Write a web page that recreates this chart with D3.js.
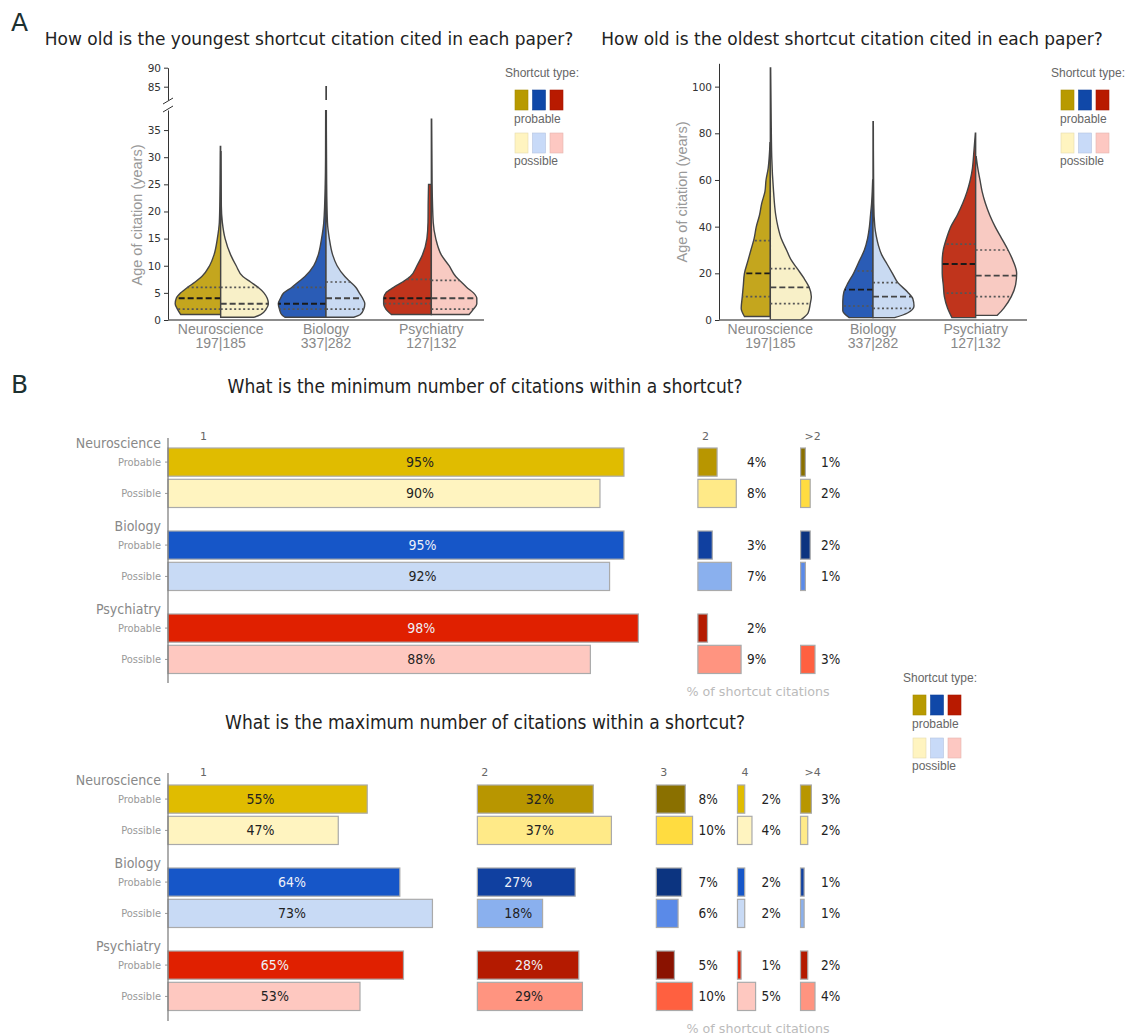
<!DOCTYPE html>
<html>
<head>
<meta charset="utf-8">
<script src="https://cdn.jsdelivr.net/npm/d3@7"></script>
<style>
  body { margin: 0; background: #fff; }
  svg { display: block; font-family: "DejaVu Sans", sans-serif; }
</style>
</head>
<body>
<div id="chart"></div>
<script>
'use strict';

// Data
var categories = ["Neuroscience", "Biology", "Psychiatry"];
var counts = ["197|185", "337|282", "127|132"];
var types = ["Probable", "Possible"];

// Violin outlines: [age in years, relative density] per field
var youngestProbable = [
  [[1,36],[2,39],[3,41],[4,40],[5,36],[6,30],[7,23],[8,17],[10,10],[12,6],[15,3],[18,1.2],[22,0.7],[26,0.5],[32,0.3]],
  [[0.5,37],[1,40],[2,42],[3,43],[4,41],[5,38],[6,31],[7,25],[8,19],[10,11],[12,7],[15,4],[18,2],[25,0.7],[30,0.4],[39,0.3]],
  [[1,36],[2,41],[3,43],[4,43],[5,41],[6,34],[7,26],[8,19],[10,13],[12,8],[15,4],[18,3],[22,2.8],[25,2.5]]
];
var youngestPossible = [
  [[0.5,30],[1,36],[2,41],[3,43],[4,42],[5,39],[6,34],[7,27],[8,20],[10,14],[12,9],[15,4],[18,1.5],[21,0.6],[31,0.3]],
  [[0.5,25],[1,31],[2,34],[3,35],[4,33],[5,30],[6,27],[7,22],[8,17],[10,10],[12,6],[15,3],[18,1.3],[25,0.6],[40,0.3],[85,0.3]],
  [[1,34],[2,38],[3,41],[4,41],[5,38],[6,32],[7,27],[8,22],[10,16],[12,9],[15,4],[18,1.7],[25,0.7],[37,0.3]]
];
var oldestProbable = [
  [[1.5,24],[5,27],[10,26],[15,25],[20,24],[25,21],[30,18],[35,15],[40,13],[45,10],[50,8],[55,5],[60,4],[65,2],[70,1],[76,0.3]],
  [[1,22],[4,28],[8,28],[12,27],[16,23],[20,18],[25,13],[30,8],[35,5],[40,3.3],[45,2.3],[50,1.3],[55,0.7],[60,0.3]],
  [[1,22],[5,26],[10,29],[15,30],[20,31],[25,31],[30,30],[35,27],[40,23],[45,17],[50,12],[55,8],[60,5],[65,3],[70,2],[80,0.3]]
];
var oldestPossible = [
  [[0,28],[3,35],[7,37],[10,38],[14,36],[18,31],[22,25],[26,19],[30,15],[35,10],[40,7],[45,5],[55,3],[70,1.3],[90,0.7],[108,0.3]],
  [[1,20],[3,32],[6,38],[9,37],[12,32],[16,23],[20,18],[24,13],[28,8],[32,5],[36,3],[40,1.7],[50,0.7],[85,0.3]],
  [[2,20],[5,26],[10,33],[15,37],[20,38],[25,35],[30,30],[35,24],[40,18],[45,13],[50,9],[55,6],[60,4],[65,2],[70,0.5]]
];
// quartiles [q1, median, q3]
var youngestProbableQuart = [[2,4,6],[2,3,6],[3,4,7.5]];
var youngestPossibleQuart = [[2,3,6],[2,4,7],[2,4,7.3]];
var oldestProbableQuart = [[10,20,34],[6,13,21],[11.5,24,32.5]];
var oldestPossibleQuart = [[7,14,22],[5,10,16],[10,19,30]];

var youngTicksLow = [0,5,10,15,20,25,30,35];
var youngTicksHigh = [85,90];
var oldTicks = [0,20,40,60,80,100];

// Shortcut citation counts (% of shortcut citations)
var minColumns = ["1", "2", ">2"];
var minProbable = [[95,4,1],[95,3,2],[98,2,null]];
var minPossible = [[90,8,2],[92,7,1],[88,9,3]];
var maxColumns = ["1", "2", "3", "4", ">4"];
var maxProbable = [[55,32,8,2,3],[64,27,7,2,1],[65,28,5,1,2]];
var maxPossible = [[47,37,10,4,2],[73,18,6,2,1],[53,29,10,5,4]];

// Colours
var violinColors = {Probable: ["#c4a61e","#2a5cb6","#c0341c"], Possible: ["#f8f0c8","#c9daf2","#f8cac2"]};
var legendColors = {Probable: ["#b89a00","#1048a8","#b81a00"], Possible: ["#fff4c0","#c8daf8","#fdc8c2"]};
var palA = {Probable: ["#e0bc00","#1656c8","#e02000"], Possible: ["#fff4c0","#c8daf5","#fec8c0"]};
var palB = {Probable: ["#b89600","#1040a0","#b41a00"], Possible: ["#ffea88","#8ab0ee","#ff9480"]};
var palC = {Probable: ["#8a7000","#0c3480","#8a1200"], Possible: ["#ffdc40","#5a8ae8","#ff6040"]};

var svg = d3.select("#chart").append("svg")
  .attr("width", 1135)
  .attr("height", 1036);

// panel letters
svg.append("text").attr("x", 11).attr("y", 31).text("A")
  .style("font-size", "25px").attr("fill", "#1c3030");
svg.append("text").attr("x", 11).attr("y", 393).text("B")
  .style("font-size", "25px").attr("fill", "#1c3030");

function widthAt(profile, age) {
  for (var i = 1; i < profile.length; i++) {
    if (age <= profile[i][0]) {
      var a = profile[i-1], b = profile[i];
      var t = (age - a[0]) / (b[0] - a[0]);
      return a[1] + t * (b[1] - a[1]);
    }
  }
  return 0;
}

function styleAxis(g) {
  g.select(".domain").attr("stroke", "#333");
  g.selectAll(".tick line").attr("stroke", "#333");
  g.selectAll(".tick text").attr("fill", "#333")
    .style("font-size", "10.5px").style("font-family", "DejaVu Sans");
}

function legend(x, y) {
  var g = svg.append("g").style("font-family", "Liberation Sans, Arial, sans-serif");
  g.append("text").attr("x", x).attr("y", y).text("Shortcut type:")
    .style("font-size", "12px").attr("fill", "#666");
  types.forEach(function(t, ti) {
    g.selectAll(null).data(legendColors[t]).enter().append("rect")
      .attr("x", function(d, i){ return x + 10 + i * 17.5 })
      .attr("y", y + 13 + ti * 43)
      .attr("width", 13).attr("height", 20)
      .attr("fill", function(d){ return d })
      .attr("stroke", function(d){ return d3.color(d).darker(0.3) })
      .attr("stroke-width", 0.6);
    g.append("text").attr("x", x + 9).attr("y", y + 46 + ti * 42)
      .text(t.toLowerCase()).style("font-size", "12px").attr("fill", "#666");
  });
}

function violinPanel(cfg) {
  var g = svg.append("g");
  var x = d3.scaleBand().domain(categories).range([cfg.left, cfg.right]);
  var w = d3.scaleLinear().domain([0, cfg.maxDensity]).range([0, cfg.maxHalf]);

  g.append("text").attr("x", cfg.titleX).attr("y", 45).attr("text-anchor", "middle")
    .text(cfg.title).style("font-size", "17px").attr("fill", "#222");

  cfg.segments.forEach(function(seg, si) {
    var clipId = cfg.id + "clip" + si;
    svg.append("clipPath").attr("id", clipId).append("rect")
      .attr("x", cfg.left).attr("y", seg.y.range()[1])
      .attr("width", cfg.right - cfg.left)
      .attr("height", seg.y.range()[0] - seg.y.range()[1]);
    var sg = g.append("g").attr("clip-path", "url(#" + clipId + ")");

    categories.forEach(function(cat, ci) {
      var cx = x(cat) + x.bandwidth() / 2;
      [["Probable", -1], ["Possible", 1]].forEach(function(t) {
        var prof = (t[0] == "Probable" ? cfg.probable : cfg.possible)[ci];
        var area = d3.area().curve(d3.curveMonotoneY)
          .y(function(d){ return seg.y(d[0]) })
          .x0(cx)
          .x1(function(d){ return cx + t[1] * w(d[1]) });
        sg.append("path").datum(prof.slice().reverse())
          .attr("d", area)
          .attr("fill", violinColors[t[0]][ci])
          .attr("stroke", "#444")
          .attr("stroke-width", 1.4);
        var q = (t[0] == "Probable" ? cfg.probQ : cfg.possQ)[ci];
        q.forEach(function(v, qi) {
          sg.append("line")
            .attr("x1", cx).attr("x2", cx + t[1] * w(widthAt(prof, v)))
            .attr("y1", seg.y(v)).attr("y2", seg.y(v))
            .attr("stroke", qi == 1 ? (t[0] == "Probable" ? "#1a1a1a" : "#444") : "#555")
            .attr("stroke-width", qi == 1 ? 1.9 : 1.7)
            .attr("stroke-dasharray", qi == 1 ? "6,3" : "2,2.5");
        });
      });
    });

    var ax = g.append("g").attr("transform", "translate(" + cfg.left + ",0)")
      .call(d3.axisLeft(seg.y).tickValues(seg.ticks).tickSize(4).tickSizeOuter(0));
    styleAxis(ax);
  });

  // x axis
  g.append("line").attr("x1", cfg.left).attr("x2", cfg.right)
    .attr("y1", 320).attr("y2", 320).attr("stroke", "#666").attr("stroke-width", 1.4);
  categories.forEach(function(cat, ci) {
    var cx = x(cat) + x.bandwidth() / 2;
    var t = g.append("text").attr("text-anchor", "middle")
      .style("font-family", "Liberation Sans, Arial, sans-serif")
      .style("font-size", "14px").attr("fill", "#888");
    t.append("tspan").attr("x", cx).attr("y", 334).text(cat);
    t.append("tspan").attr("x", cx).attr("y", 348).text(counts[ci]);
  });

  g.append("text")
    .attr("transform", "translate(" + cfg.labelX + "," + cfg.labelY + ") rotate(-90)")
    .attr("text-anchor", "middle").attr("dy", "0.35em")
    .style("font-family", "Liberation Sans, Arial, sans-serif")
    .style("font-size", "14.5px").attr("fill", "#999")
    .text("Age of citation (years)");

  legend(cfg.legendX, 77);
  return g;
}

// Panel A, left: youngest
var yLow = d3.scaleLinear().domain([0, 38.7]).range([320, 110]);
var yHigh = d3.scaleLinear().domain([81.5, 90]).range([100, 67.7]);
var gA1 = violinPanel({
  id: "young", left: 168, right: 484, maxDensity: 43, maxHalf: 47.7,
  title: "How old is the youngest shortcut citation cited in each paper?", titleX: 309,
  probable: youngestProbable, possible: youngestPossible,
  probQ: youngestProbableQuart, possQ: youngestPossibleQuart,
  segments: [{y: yLow, ticks: youngTicksLow}, {y: yHigh, ticks: youngTicksHigh}],
  labelX: 137, labelY: 215, legendX: 505
});
// axis break marks
[101, 109].forEach(function(by) {
  gA1.append("line").attr("x1", 163).attr("x2", 173).attr("y1", by + 3).attr("y2", by - 3)
    .attr("stroke", "#333").attr("stroke-width", 1);
});

// Panel A, right: oldest
var yOld = d3.scaleLinear().domain([0, 110]).range([320, 63.3]);
violinPanel({
  id: "old", left: 719, right: 1027, maxDensity: 38, maxHalf: 41,
  title: "How old is the oldest shortcut citation cited in each paper?", titleX: 852,
  probable: oldestProbable, possible: oldestPossible,
  probQ: oldestProbableQuart, possQ: oldestPossibleQuart,
  segments: [{y: yOld, ticks: oldTicks}],
  labelX: 682, labelY: 192, legendX: 1051
});

// Panel B bar charts
function barPanel(cfg) {
  var g = svg.append("g");
  var all = cfg.probable.concat(cfg.possible);
  var maxes = cfg.columns.map(function(c, i){ return d3.max(all, function(r){ return r[i] }) });
  var gap = 12.4;
  var starts = [], acc = 0;
  maxes.forEach(function(m){ starts.push(acc); acc += m + gap; });
  var x = d3.scaleLinear().domain([0, acc - gap]).range([168, 815]);
  var gy = d3.scalePoint().domain(categories).range(cfg.groupRange);
  var sub = d3.scaleBand().domain(types).range([0, 59.5]).paddingInner(0.1);

  g.append("text").attr("x", 485).attr("y", cfg.titleY).attr("text-anchor", "middle")
    .style("font-family", "DejaVu Sans Condensed, DejaVu Sans")
    .style("font-size", "19px").attr("fill", "#222").text(cfg.title);

  // column headers
  cfg.columns.forEach(function(c, i) {
    g.append("text").attr("x", x(starts[i]) + (i == 0 ? 32 : 4)).attr("y", cfg.headerY)
      .style("font-size", "11px").attr("fill", "#666").text(c);
  });

  categories.forEach(function(cat, ci) {
    var top = gy(cat);
    g.append("text").attr("x", 161).attr("y", top).attr("text-anchor", "end")
      .style("font-family", "DejaVu Sans Condensed, DejaVu Sans")
      .style("font-size", "14px").attr("fill", "#888").text(cat);

    types.forEach(function(t) {
      var vals = (t == "Probable" ? cfg.probable : cfg.possible)[ci];
      var by = top + sub(t);
      g.append("text").attr("x", 161).attr("y", by + sub.bandwidth() / 2).attr("dy", "0.35em")
        .attr("text-anchor", "end")
        .style("font-family", "DejaVu Sans Condensed, DejaVu Sans")
        .style("font-size", "11px").attr("fill", "#999").text(t);
      g.append("line").attr("x1", 165).attr("x2", 168)
        .attr("y1", by + sub.bandwidth() / 2).attr("y2", by + sub.bandwidth() / 2)
        .attr("stroke", "#999");

      vals.forEach(function(v, i) {
        if (v == null) return;
        var pal = cfg.palettes[i][t];
        g.append("rect")
          .attr("x", x(starts[i])).attr("y", by)
          .attr("width", x(starts[i] + v) - x(starts[i]))
          .attr("height", sub.bandwidth())
          .attr("fill", pal[ci]).attr("stroke", "#aaa").attr("stroke-width", 1.2);
        var inside = maxes[i] >= 15;
        var lx, anchor;
        if (inside) {
          var mean = (cfg.probable[ci][i] + cfg.possible[ci][i]) / 2;
          lx = x(starts[i] + mean / 2 + (i == 0 ? cfg.labelShift : 0));
          anchor = "middle";
        } else {
          lx = x(starts[i] + maxes[i]) + 6;
          anchor = "start";
        }
        var light = inside && t == "Probable" && ci > 0;
        g.append("text").attr("x", lx).attr("y", by + sub.bandwidth() / 2).attr("dy", "0.35em")
          .attr("text-anchor", anchor)
          .style("font-family", "DejaVu Sans Condensed, DejaVu Sans")
          .style("font-size", inside ? "14px" : "13.5px")
          .attr("fill", light ? "#eef0f8" : "#222")
          .text(v + "%");
      });
    });
  });

  g.append("line").attr("x1", 168).attr("x2", 168)
    .attr("y1", cfg.axisRange[0]).attr("y2", cfg.axisRange[1])
    .attr("stroke", "#777").attr("stroke-width", 1.2);

  g.append("text").attr("x", 758).attr("y", cfg.footY).attr("text-anchor", "middle")
    .style("font-size", "12.7px").attr("fill", "#bbb").text("% of shortcut citations");
}

barPanel({
  title: "What is the minimum number of citations within a shortcut?", titleY: 393,
  columns: minColumns, probable: minProbable, possible: minPossible,
  palettes: [palA, palB, palC], groupRange: [448, 614], axisRange: [438, 683],
  headerY: 440, footY: 696, labelShift: 6.25
});
barPanel({
  title: "What is the maximum number of citations within a shortcut?", titleY: 729,
  columns: maxColumns, probable: maxProbable, possible: maxPossible,
  palettes: [palA, palB, palC, palA, palB], groupRange: [785, 951], axisRange: [773, 1021],
  headerY: 776, footY: 1033, labelShift: 0
});

legend(903, 682);
</script>
</body>
</html>
